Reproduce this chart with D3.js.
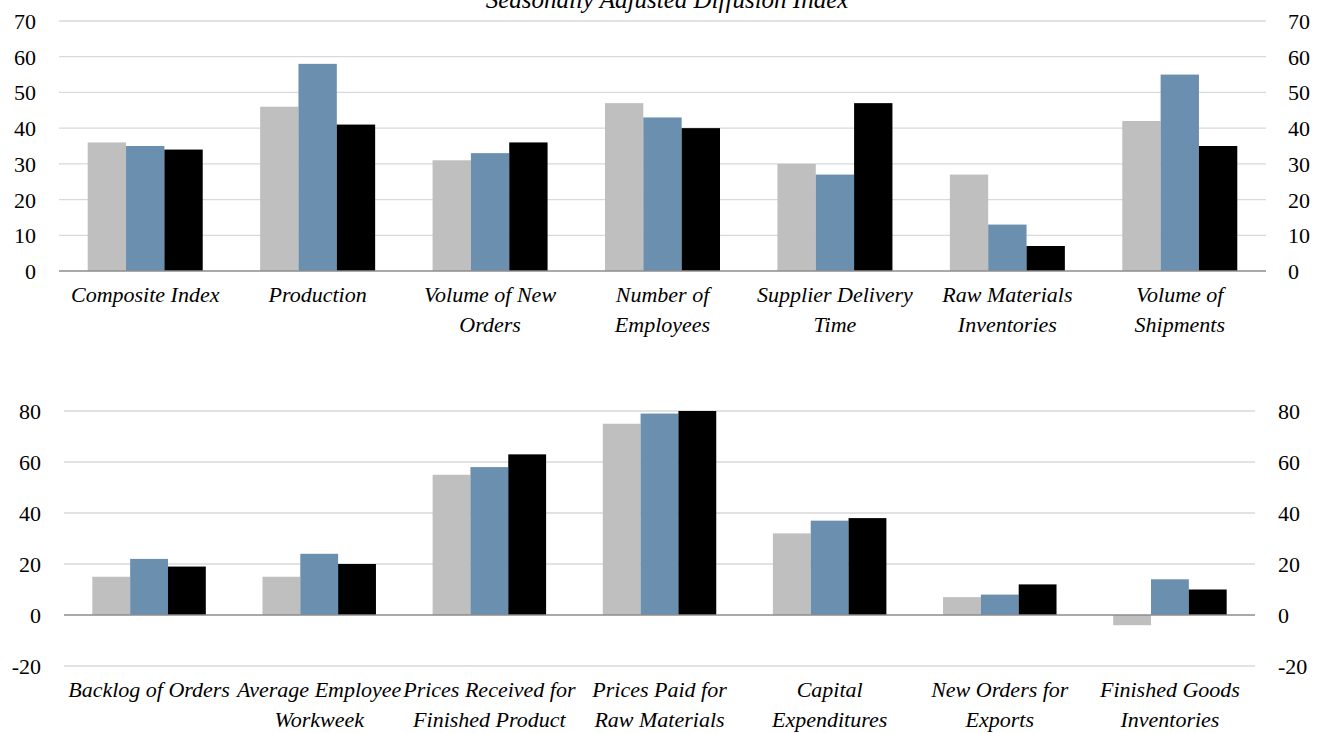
<!DOCTYPE html>
<html>
<head>
<meta charset="utf-8">
<script src="https://cdn.jsdelivr.net/npm/d3@7"></script>
<style>
  html, body { margin: 0; padding: 0; background: #fff; }
  svg { display: block; }
</style>
</head>
<body>
<svg id="chart" width="1325" height="733"></svg>
<script>
// Regional manufacturing survey, seasonally adjusted diffusion index
const title = "Seasonally Adjusted Diffusion Index";
const seriesColors = ["#BFBFBF", "#6B8FAE", "#000000"];

// Upper panel
const topCategories = [
  "Composite Index", "Production", "Volume of New\nOrders", "Number of\nEmployees",
  "Supplier Delivery\nTime", "Raw Materials\nInventories", "Volume of\nShipments"
];
const topSeries1 = [36, 46, 31, 47, 30, 27, 42];
const topSeries2 = [35, 58, 33, 43, 27, 13, 55];
const topSeries3 = [34, 41, 36, 40, 47, 7, 35];
const topTicks = [0, 10, 20, 30, 40, 50, 60, 70];

// Lower panel
const bottomCategories = [
  "Backlog of Orders", "Average Employee\nWorkweek", "Prices Received for\nFinished Product",
  "Prices Paid for\nRaw Materials", "Capital\nExpenditures", "New Orders for\nExports",
  "Finished Goods\nInventories"
];
const bottomSeries1 = [15, 15, 55, 75, 32, 7, -4];
const bottomSeries2 = [22, 24, 58, 79, 37, 8, 14];
const bottomSeries3 = [19, 20, 63, 80, 38, 12, 10];
const bottomTicks = [-20, 0, 20, 40, 60, 80];

const svg = d3.select("#chart");
const FONT = "'Liberation Serif', 'DejaVu Serif', serif";

svg.append("text")
  .attr("x", 667).attr("y", 8)
  .attr("text-anchor", "middle")
  .attr("font-family", FONT).attr("font-style", "italic")
  .attr("font-size", 25).attr("fill", "#000")
  .text(title);

function panel(cfg) {
  const g = svg.append("g");
  const x = d3.scaleBand().domain(cfg.categories.map((d, i) => i))
    .range([cfg.left, cfg.right]).paddingInner(0.333).paddingOuter(0.1665);
  const xs = d3.scaleBand().domain([0, 1, 2]).range([0, x.bandwidth()]);
  const y = d3.scaleLinear().domain(cfg.domain).range([cfg.bottom, cfg.top]);

  // gridlines
  g.append("g").selectAll("line").data(cfg.ticks.filter(t => t !== 0)).join("line")
    .attr("x1", cfg.left).attr("x2", cfg.right)
    .attr("y1", d => y(d)).attr("y2", d => y(d))
    .attr("stroke", "#D9D9D9").attr("stroke-width", 1.3);

  // left and right value axes
  const leftAxis = d3.axisLeft(y).tickValues(cfg.ticks).tickSize(0).tickPadding(0)
    .tickFormat(d3.format("d"));
  const la = g.append("g").attr("transform", `translate(${cfg.leftLabelX},0)`).call(leftAxis);
  const rightAxis = d3.axisRight(y).tickValues(cfg.ticks).tickSize(0).tickPadding(0)
    .tickFormat(d3.format("d"));
  const ra = g.append("g").attr("transform", `translate(${cfg.rightLabelX},0)`).call(rightAxis);
  [la, ra].forEach(a => {
    a.attr("font-family", FONT);
    a.select(".domain").remove();
    a.selectAll("text").attr("font-family", FONT).attr("font-size", 22)
      .attr("fill", "#000").attr("dy", "0.34em")
      .text(d => d < 0 ? "-" + Math.abs(d) : d);
  });

  // bars
  const series = [cfg.s1, cfg.s2, cfg.s3];
  const rows = [];
  cfg.categories.forEach((c, i) => series.forEach((s, k) => rows.push({ i, k, v: s[i] })));
  g.append("g").selectAll("rect").data(rows).join("rect")
    .attr("x", d => x(d.i) + xs(d.k))
    .attr("width", xs.bandwidth())
    .attr("y", d => y(Math.max(0, d.v)))
    .attr("height", d => Math.abs(y(d.v) - y(0)))
    .attr("fill", d => seriesColors[d.k]);

  // zero line
  g.append("line")
    .attr("x1", cfg.left).attr("x2", cfg.right)
    .attr("y1", y(0)).attr("y2", y(0))
    .attr("stroke", "#8C8C8C").attr("stroke-width", 1.5);

  // category labels
  const lab = g.append("g").selectAll("text").data(cfg.categories).join("text")
    .attr("text-anchor", "middle")
    .attr("font-family", FONT).attr("font-style", "italic")
    .attr("font-size", 22).attr("fill", "#000")
    .attr("transform", (d, i) => `translate(${x(i) + x.bandwidth() / 2},${cfg.labelY})`);
  lab.selectAll("tspan").data(d => d.split("\n")).join("tspan")
    .attr("x", 0).attr("y", (d, j) => j * 30)
    .text(d => d);
}

panel({
  categories: topCategories, s1: topSeries1, s2: topSeries2, s3: topSeries3,
  ticks: topTicks, domain: [0, 70],
  left: 59, right: 1266, top: 21, bottom: 271,
  leftLabelX: 36, rightLabelX: 1288, labelY: 302
});

panel({
  categories: bottomCategories, s1: bottomSeries1, s2: bottomSeries2, s3: bottomSeries3,
  ticks: bottomTicks, domain: [-20, 80],
  left: 64, right: 1255, top: 411, bottom: 666,
  leftLabelX: 41, rightLabelX: 1278, labelY: 697
});
</script>
</body>
</html>
